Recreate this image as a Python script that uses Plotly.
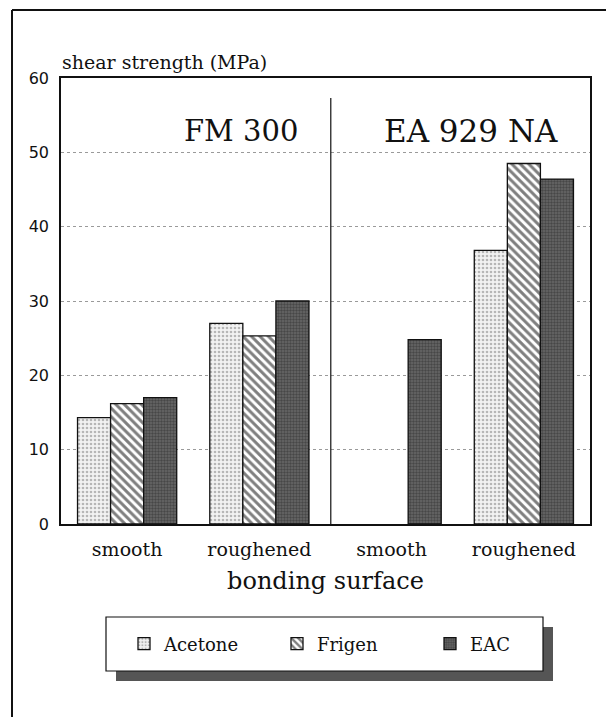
import plotly.graph_objects as go

# ---- data ----
surfaces = ["smooth", "roughened", "smooth", "roughened"]
adhesives = ["FM 300", "EA 929 NA"]
solvents = ["Acetone", "Frigen", "EAC"]
acetone = [14.3, 27.0, None, 36.8]
frigen = [16.2, 25.3, None, 48.5]
eac = [17.0, 30.0, 24.8, 46.4]
y_ticks = [0, 10, 20, 30, 40, 50, 60]

x_pos = list(range(len(surfaces)))

W, H = 606, 717
L, R, T, B = 61, 16, 78, 193
PW, PH = W - L - R, H - T - B


def px(xp):
    return (xp - L) / PW


def py(yp):
    return (H - B - yp) / PH


SERIF = "DejaVu Serif"
SANS = "DejaVu Sans"
INK = "#111111"

styles = {
    "Acetone": dict(color="#eeeeee", pattern=dict(shape=".", fgcolor="#7a7a7a", bgcolor="#f2f2f2", size=4, solidity=0.35)),
    "Frigen": dict(color="white", pattern=dict(shape="\\", fgcolor="#000000", bgcolor="white", size=6, solidity=0.5)),
    "EAC": dict(color="#555555", pattern=dict(shape=".", fgcolor="#262626", bgcolor="#686868", size=3, solidity=0.5)),
}

fig = go.Figure()
for name, vals in zip(solvents, [acetone, frigen, eac]):
    st = styles[name]
    fig.add_trace(go.Bar(
        x=x_pos, y=vals, name=name,
        marker=dict(color=st["color"], pattern=st["pattern"],
                    line=dict(color=INK, width=1.3)),
    ))

fig.update_layout(
    width=W, height=H,
    margin=dict(l=L, r=R, t=T, b=B, pad=0),
    paper_bgcolor="white", plot_bgcolor="white",
    barmode="group", bargap=0.25, bargroupgap=0,
    font=dict(family=SERIF, color=INK),
    showlegend=True,
    legend=dict(orientation="h", x=px(124), y=py(644), xanchor="left", yanchor="middle",
                bgcolor="rgba(0,0,0,0)", borderwidth=0,
                font=dict(family=SERIF, size=18, color=INK),
                entrywidth=108),
)

fig.update_xaxes(
    range=[-0.5, 3.5], tickvals=x_pos, ticktext=surfaces,
    showline=True, linecolor=INK, linewidth=1.5, mirror=True,
    showgrid=False, ticks="", zeroline=False,
    tickfont=dict(family=SERIF, size=19, color=INK),
    ticklabelstandoff=7,
    title=dict(text="bonding surface", font=dict(family=SERIF, size=24, color=INK), standoff=14),
)
fig.update_yaxes(
    range=[0, 60], tickvals=y_ticks,
    showline=True, linecolor=INK, linewidth=1.5, mirror=True,
    showgrid=True, gridcolor="#9a9a9a", griddash="dot", gridwidth=1,
    ticks="", zeroline=False,
    tickfont=dict(family=SANS, size=16, color=INK),
    ticklabelstandoff=7,
)

# axis title
fig.add_annotation(text="shear strength (MPa)", xref="paper", yref="paper",
                   x=px(60), y=py(62), xanchor="left", yanchor="middle",
                   showarrow=False, font=dict(family=SERIF, size=19, color=INK))

# adhesive labels
fig.add_annotation(text=adhesives[0], xref="x", yref="paper", x=0.86, y=py(131),
                   xanchor="center", yanchor="middle",
                   showarrow=False, font=dict(family=SERIF, size=29, color=INK))
fig.add_annotation(text=adhesives[1], xref="x", yref="paper", x=2.6, y=py(131),
                   xanchor="center", yanchor="middle",
                   showarrow=False, font=dict(family=SERIF, size=31, color=INK))

# divider between adhesives
fig.add_shape(type="line", xref="x", yref="paper", x0=1.54, x1=1.54, y0=0, y1=py(98),
              line=dict(color=INK, width=1.2))

# outer frame (left and top)
fig.add_shape(type="line", xref="paper", yref="paper", x0=px(12), x1=px(12), y0=py(717), y1=py(10),
              line=dict(color=INK, width=2))
fig.add_shape(type="line", xref="paper", yref="paper", x0=px(12), x1=px(606), y0=py(10), y1=py(10),
              line=dict(color=INK, width=2))

# legend box with shadow
fig.add_shape(type="rect", xref="paper", yref="paper", x0=px(116), x1=px(553), y0=py(681), y1=py(627),
              line=dict(width=0), fillcolor="#555555", layer="above")
fig.add_shape(type="rect", xref="paper", yref="paper", x0=px(106), x1=px(543), y0=py(671), y1=py(617),
              line=dict(color=INK, width=1.2), fillcolor="white", layer="above")

fig.write_html("out.html")
